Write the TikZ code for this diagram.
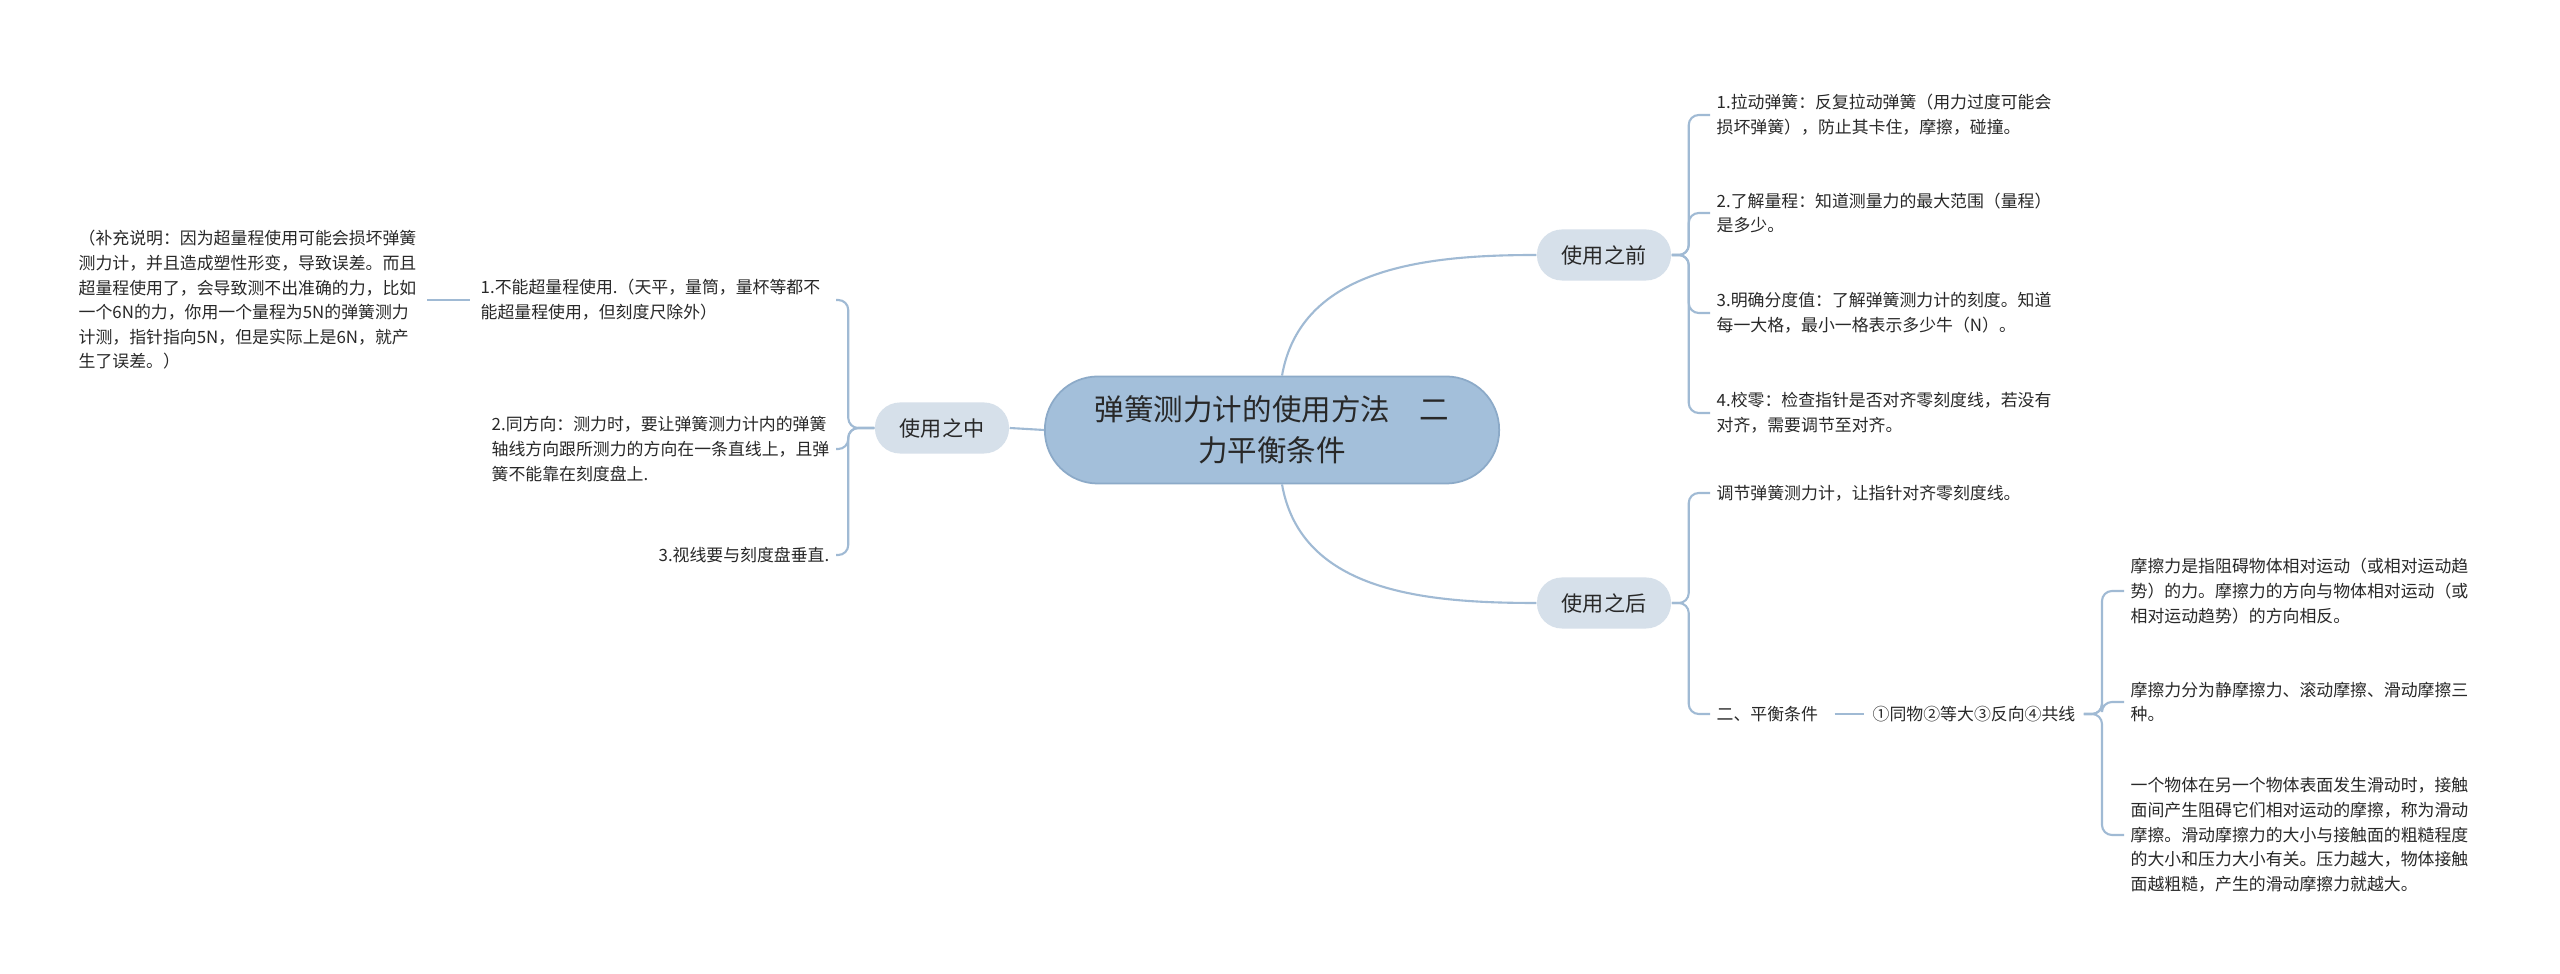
\documentclass[tikz,border=0pt]{standalone}
\usepackage{fontspec}
\setmainfont{Noto Sans CJK SC}
\definecolor{Line}{RGB}{160,186,212}
\definecolor{RootFill}{RGB}{163,191,218}
\definecolor{RootDraw}{RGB}{140,170,200}
\definecolor{SubFill}{RGB}{214,224,234}
\definecolor{Ink}{RGB}{40,40,40}
\begin{document}
\begin{tikzpicture}[x=0.01cm, y=-0.01cm,
    link/.style={draw=Line, line width=0.6pt, rounded corners=0.1cm},
    rootbox/.style={fill=RootFill, draw=RootDraw, line width=0.5pt, rounded corners=0.53cm, minimum width=4.54cm, minimum height=1.07cm, align=center, font=\fontsize{8.4}{11.6}\selectfont, text=Ink},
    subbox/.style={fill=SubFill, rounded corners=0.25cm, minimum width=1.34cm, minimum height=0.51cm, font=\fontsize{6}{7}\selectfont, text=Ink},
    leaf/.style={inner sep=0pt, align=left, font=\fontsize{4.8}{7}\selectfont, text=Ink}]

    \useasboundingbox[fill=white] (0,0) rectangle (2560,974);

    % Root and main branches
    \node[rootbox] (root) at (1272,430) {弹簧测力计的使用方法\quad 二\\力平衡条件};
    \node[subbox] (qian) at (1604,255) {使用之前};
    \node[subbox] (hou) at (1604,603) {使用之后};
    \node[subbox] (zhong) at (942,428) {使用之中};

    \draw[link] ([xshift=0.1cm]root.north) to[out=80, in=180] (qian.west);
    \draw[link] ([xshift=0.1cm]root.south) to[out=-80, in=180] (hou.west);
    \draw[link] (root.west) -- (zhong.east);

    % Before
    \node[leaf, anchor=west] (q1) at (1716,115) {1.拉动弹簧：反复拉动弹簧（用力过度可能会\\损坏弹簧），防止其卡住，摩擦，碰撞。};
    \node[leaf, anchor=west] (q2) at (1716,213) {2.了解量程：知道测量力的最大范围（量程）\\是多少。};
    \node[leaf, anchor=west] (q3) at (1716,313) {3.明确分度值：了解弹簧测力计的刻度。知道\\每一大格，最小一格表示多少牛（N）。};
    \node[leaf, anchor=west] (q4) at (1716,413) {4.校零：检查指针是否对齐零刻度线，若没有\\对齐，需要调节至对齐。};
    \foreach \c in {q1,q2,q3,q4}
        \draw[link] (qian.east) -- ++(17,0) |- ([xshift=-0.06cm]\c.west);

    % After
    \node[leaf, anchor=west] (h1) at (1716,493) {调节弹簧测力计，让指针对齐零刻度线。};
    \node[leaf, anchor=west] (ping) at (1716,714) {二、平衡条件};
    \foreach \c in {h1,ping}
        \draw[link] (hou.east) -- ++(17,0) |- ([xshift=-0.06cm]\c.west);

    \node[leaf, anchor=west] (gong) at (1872,714) {①同物②等大③反向④共线};
    \draw[link] ([xshift=0.16cm]ping.east) -- ([xshift=-0.08cm]gong.west);

    \node[leaf, anchor=west] (m1) at (2130,591) {摩擦力是指阻碍物体相对运动（或相对运动趋\\势）的力。摩擦力的方向与物体相对运动（或\\相对运动趋势）的方向相反。};
    \node[leaf, anchor=west] (m2) at (2130,702) {摩擦力分为静摩擦力、滚动摩擦、滑动摩擦三\\种。};
    \node[leaf, anchor=west] (m3) at (2130,835) {一个物体在另一个物体表面发生滑动时，接触\\面间产生阻碍它们相对运动的摩擦，称为滑动\\摩擦。滑动摩擦力的大小与接触面的粗糙程度\\的大小和压力大小有关。压力越大，物体接触\\面越粗糙，产生的滑动摩擦力就越大。};
    \foreach \c in {m1,m2,m3}
        \draw[link] ([xshift=0.08cm]gong.east) -- ++(18,0) |- ([xshift=-0.06cm]\c.west);

    % During
    \node[leaf, anchor=west] (z1) at (480,300) {1.不能超量程使用.（天平，量筒，量杯等都不\\能超量程使用，但刻度尺除外）};
    \node[leaf, anchor=east, align=left] (z2) at (830,449) {2.同方向：测力时，要让弹簧测力计内的弹簧\\轴线方向跟所测力的方向在一条直线上，且弹\\簧不能靠在刻度盘上.};
    \node[leaf, anchor=east] (z3) at (830,555) {3.视线要与刻度盘垂直.};
    \coordinate (z1e) at (836,300);
    \coordinate (z2e) at (836,449);
    \coordinate (z3e) at (836,555);
    \foreach \c in {z1e,z2e,z3e}
        \draw[link] (zhong.west) -- ++(-26,0) |- (\c);

    \node[leaf, anchor=west] (note) at (78,300) {（补充说明：因为超量程使用可能会损坏弹簧\\测力计，并且造成塑性形变，导致误差。而且\\超量程使用了，会导致测不出准确的力，比如\\一个6N的力，你用一个量程为5N的弹簧测力\\计测，指针指向5N，但是实际上是6N，就产\\生了误差。）};
    \draw[link] ([xshift=0.1cm]note.east |- z1.west) -- ([xshift=-0.1cm]z1.west);
\end{tikzpicture}
\end{document}
